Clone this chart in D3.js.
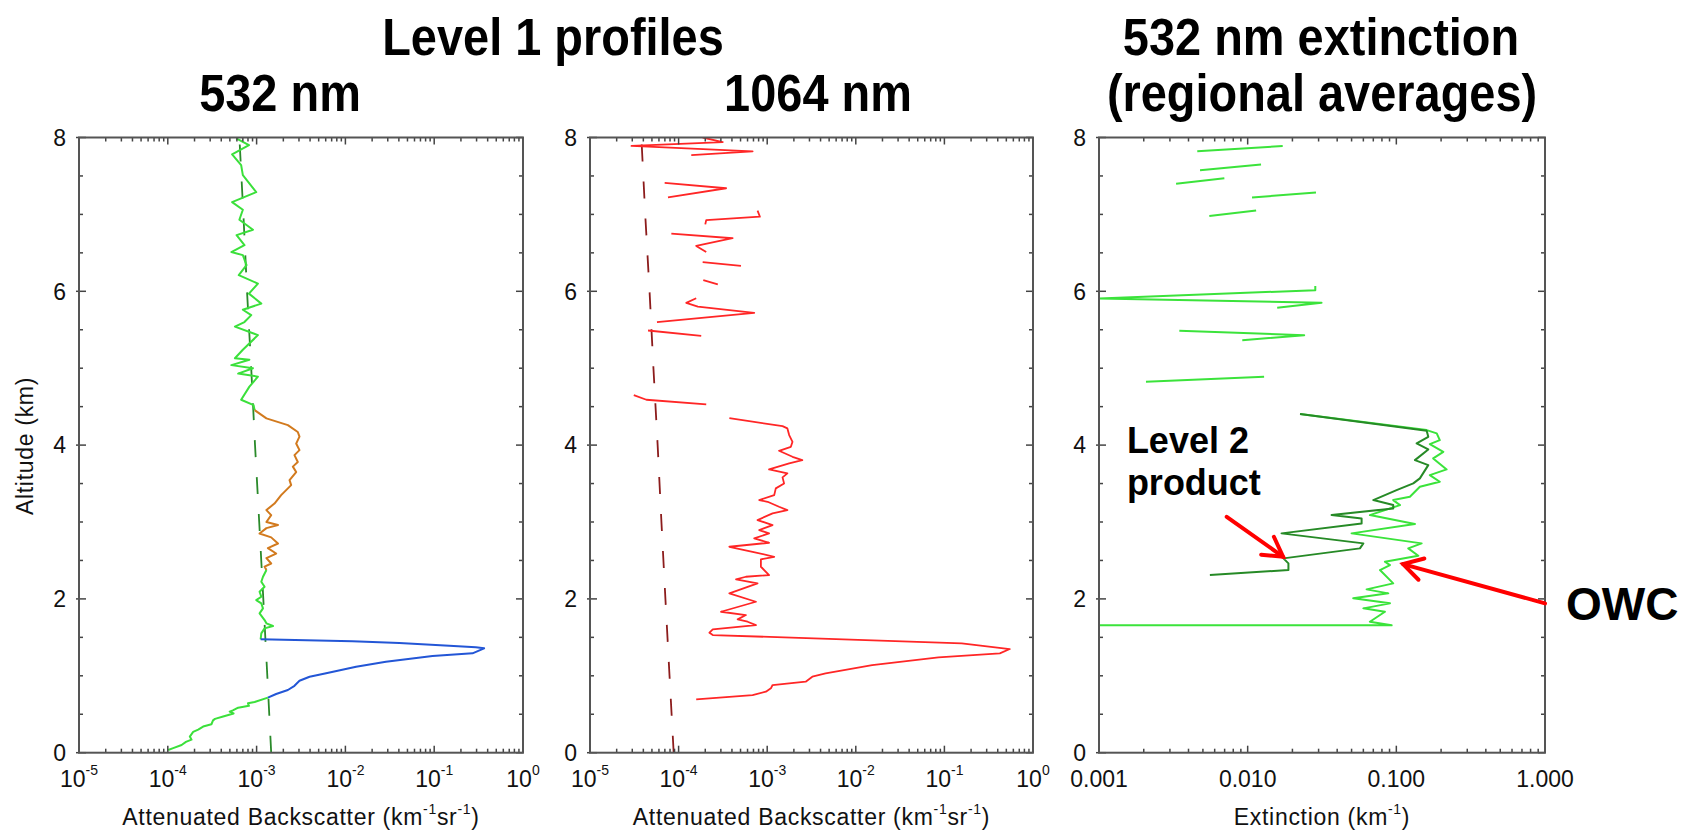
<!DOCTYPE html>
<html>
<head>
<meta charset="utf-8">
<script src="https://cdn.jsdelivr.net/npm/d3@7"></script>
<style>
html,body{margin:0;padding:0;background:#fff;}
svg{display:block;}
</style>
</head>
<body>
<svg id="chart" width="1687" height="833"></svg>
<script>
// ---------------- DATA ----------------
const altTicks = [0, 2, 4, 6, 8];
const extTickLabels = ["0.001", "0.010", "0.100", "1.000"];

// molecular (dashed) profiles
const molAlt = [0, 1, 2, 3, 4, 5, 6, 7, 8];
const mol532 = [1.46e-3, 1.32e-3, 1.19e-3, 1.07e-3, 9.6e-4, 8.7e-4, 7.8e-4, 7.1e-4, 6.4e-4];
const mol1064 = [8.8e-5, 7.9e-5, 7.1e-5, 6.4e-5, 5.8e-5, 5.2e-5, 4.7e-5, 4.2e-5, 3.8e-5];

// 532 nm attenuated backscatter [altitude km, value]
const green532Top = [[7.99,5.9e-4],[7.90,8.2e-4],[7.78,5.3e-4],[7.64,6.7e-4],[7.51,7.0e-4],[7.29,9.9e-4],[7.16,5.3e-4],[7.06,7.0e-4],[6.93,6.4e-4],[6.80,9.1e-4],[6.73,5.95e-4],[6.60,7.3e-4],[6.51,5.2e-4],[6.47,7.0e-4],[6.34,7.7e-4],[6.21,6.3e-4],[6.10,1.035e-3],[5.97,8.2e-4],[5.84,1.13e-3],[5.76,7.0e-4],[5.69,8.7e-4],[5.60,7.3e-4],[5.54,5.7e-4],[5.43,1.035e-3],[5.24,7.0e-4],[5.13,5.7e-4],[5.11,8.3e-4],[5.04,5.2e-4],[5.00,9.1e-4],[4.93,6.2e-4],[4.89,1.035e-3],[4.76,8.3e-4],[4.59,6.7e-4],[4.52,9.25e-4],[4.455,9.5e-4]];
const orange532 = [[4.455,9.5e-4],[4.347,1.29e-3],[4.26,2.25e-3],[4.17,2.91e-3],[4.11,3.04e-3],[4.02,2.79e-3],[3.935,3.04e-3],[3.87,2.67e-3],[3.78,2.91e-3],[3.72,2.56e-3],[3.65,2.79e-3],[3.545,2.35e-3],[3.48,2.45e-3],[3.35,1.89e-3],[3.24,1.59e-3],[3.155,1.29e-3],[3.09,1.46e-3],[3.00,1.29e-3],[2.96,1.74e-3],[2.92,1.29e-3],[2.85,1.08e-3],[2.80,1.46e-3],[2.72,1.74e-3],[2.66,1.34e-3],[2.59,1.66e-3],[2.53,1.29e-3],[2.46,1.46e-3],[2.42,1.23e-3],[2.375,1.29e-3]];
const green532Mid = [[2.375,1.29e-3],[2.288,1.18e-3],[2.223,1.13e-3],[2.158,1.23e-3],[2.093,1.08e-3],[2.028,1.13e-3],[1.985,9.9e-4],[1.942,1.13e-3],[1.877,1.18e-3],[1.812,1.08e-3],[1.725,1.23e-3],[1.682,1.29e-3],[1.647,1.53e-3],[1.617,1.23e-3],[1.552,1.13e-3],[1.474,1.11e-3]];
const blue532 = [[1.474,1.11e-3],[1.45,0.012],[1.426,0.0405],[1.391,0.148],[1.37,0.294],[1.357,0.365],[1.292,0.27],[1.257,0.0957],[1.183,0.0286],[1.118,0.0132],[1.032,6.07e-3],[0.988,3.95e-3],[0.936,3.04e-3],[0.87,2.67e-3],[0.815,2.25e-3],[0.763,1.66e-3],[0.716,1.34e-3]];
const green532Low = [[0.716,1.34e-3],[0.66,9.5e-4],[0.642,8.0e-4],[0.61,8.2e-4],[0.585,6.2e-4],[0.55,5.4e-4],[0.533,4.98e-4],[0.51,5.5e-4],[0.47,4.2e-4],[0.44,3.4e-4],[0.42,3.23e-4],[0.37,3.1e-4],[0.34,2.5e-4],[0.30,2.2e-4],[0.27,1.93e-4],[0.21,1.77e-4],[0.17,1.85e-4],[0.14,1.6e-4],[0.10,1.43e-4],[0.06,1.15e-4],[0.035,1.01e-4]];

// 1064 nm attenuated backscatter segments
const red1064Segments = [
  [[8.0,1.87e-4],[7.94,3.15e-4],[7.89,2.94e-5],[7.82,6.84e-4],[7.77,1.39e-4]],
  [[7.41,6.96e-5],[7.34,3.44e-4],[7.22,7.59e-5]],
  [[7.05,7.78e-4],[6.97,8.28e-4],[6.925,2.05e-4],[6.87,2.0e-4]],
  [[6.75,8.28e-5],[6.69,4.07e-4],[6.59,1.58e-4],[6.51,2.05e-4]],
  [[6.38,1.87e-4],[6.33,5.06e-4]],
  [[6.145,1.9e-4],[6.09,2.77e-4]],
  [[5.91,1.58e-4],[5.85,1.22e-4],[5.80,1.65e-4],[5.72,7.14e-4],[5.60,5.7e-5]],
  [[5.49,4.52e-5],[5.42,1.8e-4]],
  [[4.65,3.12e-5],[4.59,4.33e-5],[4.53,2.05e-4]],
  [[4.35,3.74e-4],[4.247,1.49e-3],[4.217,1.69e-3],[4.13,1.77e-3],[4.043,1.93e-3],[3.978,1.85e-3],[3.926,1.36e-3],[3.848,1.93e-3],[3.805,2.49e-3],[3.762,1.77e-3],[3.684,1.05e-3],[3.632,1.69e-3],[3.58,1.49e-3],[3.502,1.55e-3],[3.437,1.25e-3],[3.35,1.2e-3],[3.285,8.13e-4],[3.263,1.01e-3],[3.198,1.36e-3],[3.155,1.69e-3],[3.112,1.15e-3],[3.025,7.78e-4],[2.96,1.15e-3],[2.895,8.13e-4],[2.852,1.05e-3],[2.787,7.14e-4],[2.73,1.05e-3],[2.678,3.74e-4],[2.613,6.84e-4],[2.548,1.2e-3],[2.514,8.49e-4],[2.418,8.49e-4],[2.31,1.05e-3],[2.288,5.75e-4],[2.254,4.45e-4],[2.202,7.78e-4],[2.072,3.74e-4],[1.963,7.46e-4],[1.833,3.01e-4],[1.79,5.75e-4],[1.734,4.64e-4],[1.703,6.01e-4],[1.66,7.46e-4],[1.604,2.43e-4],[1.56,2.23e-4],[1.53,2.43e-4],[1.422,0.157],[1.348,0.547],[1.292,0.422],[1.24,0.0857],[1.14,0.0153],[1.032,4.56e-3],[0.988,3.23e-3],[0.923,2.72e-3],[0.88,1.15e-3],[0.837,1.1e-3],[0.793,9.67e-4],[0.75,6.84e-4],[0.694,1.58e-4]]
];

// 532 nm extinction (regional averages)
const extUpperSegments = [
  [[7.82,4.58e-3],[7.89,0.0172]],
  [[7.575,4.78e-3],[7.65,0.0123]],
  [[7.40,3.3e-3],[7.47,6.97e-3]],
  [[7.22,0.0107],[7.285,0.0288]],
  [[6.98,5.52e-3],[7.05,0.0114]],
  [[6.07,0.0285],[6.015,0.0285],[5.907,0.001],[5.85,0.0314],[5.785,0.0158]],
  [[5.486,3.47e-3],[5.43,0.024],[5.365,9.2e-3]],
  [[4.823,2.07e-3],[4.888,0.0129]]
];
const extOWC = [[4.403,0.0225],[4.195,0.16],[4.152,0.187],[4.065,0.196],[4.013,0.168],[3.913,0.207],[3.827,0.177],[3.684,0.218],[3.61,0.168],[3.523,0.196],[3.458,0.144],[3.328,0.1234],[3.285,0.0953],[3.22,0.1058],[3.09,0.0664],[2.973,0.1334],[2.852,0.05],[2.722,0.148],[2.657,0.1203],[2.561,0.1405],[2.483,0.0838],[2.44,0.0906],[2.375,0.0776],[2.202,0.0953],[2.124,0.0631],[2.072,0.0883],[2.007,0.0513],[1.942,0.0906],[1.877,0.06],[1.833,0.0838],[1.703,0.0664],[1.656,0.093],[1.656,0.001]];
const extLevel2 = [[4.403,0.0225],[4.186,0.16],[4.108,0.164],[4.022,0.137],[3.944,0.164],[3.805,0.1334],[3.74,0.164],[3.567,0.144],[3.502,0.13],[3.415,0.1004],[3.285,0.07],[3.22,0.0953],[3.177,0.0953],[3.09,0.0367],[3.047,0.0584],[2.982,0.0584],[2.852,0.0169],[2.722,0.06],[2.657,0.0569],[2.527,0.0174],[2.462,0.0188],[2.375,0.0188],[2.31,5.57e-3]];

// annotation anchors [extinction, altitude]
const arrowLevel2 = {from: [0.00723, 3.068], to: [0.0173, 2.548]};
const arrowOWC = {from: [1.0, 1.942], to: [0.111, 2.453]};

// ---------------- DRAWING ----------------
const FONT = "'Liberation Sans', Arial, Helvetica, sans-serif";
const svg = d3.select("#chart");
svg.append("rect").attr("width", 1687).attr("height", 833).attr("fill", "#fff");

const yTop = 137.5, yBot = 752.7;
const y = d3.scaleLinear().domain([0, 8]).range([yBot, yTop]);

const panels = [
  {x: d3.scaleLog().domain([1e-5, 1]).range([79, 523]), kind: "bs"},
  {x: d3.scaleLog().domain([1e-5, 1]).range([590, 1033]), kind: "bs"},
  {x: d3.scaleLog().domain([1e-3, 1]).range([1099, 1545]), kind: "ext"}
];

function lineFor(xs) {
  return d3.line().x(d => xs(d[1])).y(d => y(d[0]));
}

function clipFor(i, xs) {
  const id = "clip" + i;
  svg.append("clipPath").attr("id", id).append("rect")
    .attr("x", xs.range()[0]).attr("y", yTop)
    .attr("width", xs.range()[1] - xs.range()[0]).attr("height", yBot - yTop);
  return "url(#" + id + ")";
}

function isDecade(t) {
  const lg = Math.log10(t);
  return Math.abs(lg - Math.round(lg)) < 1e-9;
}

function drawFrame(xs, kind) {
  const [x0, x1] = xs.range();
  const g = svg.append("g");
  y.ticks(16).forEach(t => {
    const major = Math.abs(t % 2) < 1e-9;
    const len = major ? 7 : 4;
    g.append("line").attr("x1", x0 - (major ? 3 : 0)).attr("x2", x0 + len).attr("y1", y(t)).attr("y2", y(t))
      .attr("stroke", "#444").attr("stroke-width", 1.5);
    g.append("line").attr("x1", x1).attr("x2", x1 - len).attr("y1", y(t)).attr("y2", y(t))
      .attr("stroke", "#444").attr("stroke-width", 1.5);
  });
  xs.ticks().forEach(t => {
    const len = isDecade(t) ? 7 : 4;
    g.append("line").attr("x1", xs(t)).attr("x2", xs(t)).attr("y1", yBot).attr("y2", yBot - len)
      .attr("stroke", "#444").attr("stroke-width", 1.5);
    g.append("line").attr("x1", xs(t)).attr("x2", xs(t)).attr("y1", yTop).attr("y2", yTop + len)
      .attr("stroke", "#444").attr("stroke-width", 1.5);
  });
  g.append("rect").attr("x", x0).attr("y", yTop).attr("width", x1 - x0).attr("height", yBot - yTop)
    .attr("fill", "none").attr("stroke", "#555").attr("stroke-width", 2);

  altTicks.forEach(t => {
    g.append("text").attr("x", x0 - 13).attr("y", y(t)).attr("dy", "0.36em")
      .attr("text-anchor", "end").attr("font-family", FONT).attr("font-size", 23)
      .attr("fill", "#111").text(t);
  });
  xs.ticks().filter(isDecade).forEach((t, i) => {
    const tx = g.append("text").attr("x", xs(t)).attr("y", yBot + 34)
      .attr("text-anchor", "middle").attr("font-family", FONT).attr("font-size", 23).attr("fill", "#111");
    if (kind === "bs") {
      tx.append("tspan").text("10");
      tx.append("tspan").attr("dy", -12).attr("font-size", 14).text(String(Math.round(Math.log10(t))));
    } else {
      tx.text(extTickLabels[i]);
    }
  });
}

function axisTitle(xs, parts) {
  const [x0, x1] = xs.range();
  const t = svg.append("text").attr("x", (x0 + x1) / 2).attr("y", 825)
    .attr("text-anchor", "middle").attr("font-family", FONT).attr("font-size", 23)
    .attr("letter-spacing", 0.7).attr("fill", "#111");
  let raised = false;
  parts.forEach(p => {
    const s = t.append("tspan").text(p.t);
    if (p.sup && !raised) { s.attr("dy", -11).attr("font-size", 14); raised = true; }
    else if (p.sup) { s.attr("font-size", 14); }
    else if (raised) { s.attr("dy", 11); raised = false; }
  });
}

// ---- Panel 1: 532 nm ----
{
  const xs = panels[0].x;
  const cp = clipFor(0, xs);
  const g = svg.append("g").attr("clip-path", cp);
  const ln = lineFor(xs);
  g.append("path").datum(molAlt.map((a, i) => [a, mol532[i]])).attr("d", ln)
    .attr("fill", "none").attr("stroke", "#2a8a2a").attr("stroke-width", 1.8).attr("stroke-dasharray", "17,20");
  [[green532Top, "#3be03b"], [orange532, "#d27a1e"], [green532Mid, "#3be03b"], [blue532, "#2356d6"], [green532Low, "#3be03b"]]
    .forEach(([d, c]) => {
      g.append("path").datum(d).attr("d", ln).attr("fill", "none").attr("stroke", c)
        .attr("stroke-width", 2).attr("stroke-linejoin", "round");
    });
  drawFrame(xs, "bs");
  axisTitle(xs, [{t: "Attenuated Backscatter (km"}, {t: "-1", sup: true}, {t: "sr"}, {t: "-1", sup: true}, {t: ")"}]);
}

// ---- Panel 2: 1064 nm ----
{
  const xs = panels[1].x;
  const cp = clipFor(1, xs);
  const g = svg.append("g").attr("clip-path", cp);
  const ln = lineFor(xs);
  g.append("path").datum(molAlt.map((a, i) => [a, mol1064[i]])).attr("d", ln)
    .attr("fill", "none").attr("stroke", "#8c1c1c").attr("stroke-width", 1.8).attr("stroke-dasharray", "17,20");
  red1064Segments.forEach(d => {
    g.append("path").datum(d).attr("d", ln).attr("fill", "none").attr("stroke", "#ff2626")
      .attr("stroke-width", 1.8).attr("stroke-linejoin", "round");
  });
  drawFrame(xs, "bs");
  axisTitle(xs, [{t: "Attenuated Backscatter (km"}, {t: "-1", sup: true}, {t: "sr"}, {t: "-1", sup: true}, {t: ")"}]);
}

// ---- Panel 3: extinction ----
{
  const xs = panels[2].x;
  const cp = clipFor(2, xs);
  const g = svg.append("g").attr("clip-path", cp);
  const ln = lineFor(xs);
  extUpperSegments.forEach(d => {
    g.append("path").datum(d).attr("d", ln).attr("fill", "none").attr("stroke", "#3be33b")
      .attr("stroke-width", 2).attr("stroke-linejoin", "round");
  });
  g.append("path").datum(extOWC).attr("d", ln).attr("fill", "none").attr("stroke", "#3be33b")
    .attr("stroke-width", 2).attr("stroke-linejoin", "round");
  g.append("path").datum(extLevel2).attr("d", ln).attr("fill", "none").attr("stroke", "#268a26")
    .attr("stroke-width", 2).attr("stroke-linejoin", "round");
  drawFrame(xs, "ext");
  axisTitle(xs, [{t: "Extinction (km"}, {t: "-1", sup: true}, {t: ")"}]);

  function arrow(a) {
    const x1 = xs(a.from[0]), y1 = y(a.from[1]), x2 = xs(a.to[0]), y2 = y(a.to[1]);
    const ang = Math.atan2(y1 - y2, x1 - x2);
    const L = 22, da = Math.PI / 6;
    const gg = svg.append("g").attr("stroke", "#ff0000").attr("stroke-width", 4).attr("stroke-linecap", "round").attr("fill", "none");
    gg.append("line").attr("x1", x1).attr("y1", y1).attr("x2", x2).attr("y2", y2);
    gg.append("polyline").attr("points",
      [[x2 + L * Math.cos(ang - da), y2 + L * Math.sin(ang - da)], [x2, y2], [x2 + L * Math.cos(ang + da), y2 + L * Math.sin(ang + da)]]
        .map(p => p.join(",")).join(" "));
  }
  arrow(arrowLevel2);
  arrow(arrowOWC);

  svg.append("text").attr("x", xs(0.00154)).attr("y", y(3.892)).attr("font-family", FONT)
    .attr("font-weight", "bold").attr("font-size", 36).attr("fill", "#000").text("Level 2");
  svg.append("text").attr("x", xs(0.00154)).attr("y", y(3.35)).attr("font-family", FONT)
    .attr("font-weight", "bold").attr("font-size", 36).attr("fill", "#000").text("product");
  svg.append("text").attr("x", xs(1) + 21).attr("y", y(1.725)).attr("font-family", FONT)
    .attr("font-weight", "bold").attr("font-size", 46).attr("fill", "#000").text("OWC");
}

// y-axis title (panel 1)
svg.append("text").attr("transform", "translate(33,446) rotate(-90)").attr("text-anchor", "middle")
  .attr("font-family", FONT).attr("font-size", 23).attr("letter-spacing", 0.7).attr("fill", "#111").text("Altitude (km)");

// titles
const titles = [
  {t: "Level 1 profiles", x: 553, y: 55},
  {t: "532 nm", x: 280, y: 111},
  {t: "1064 nm", x: 818, y: 111},
  {t: "532 nm extinction", x: 1321, y: 55},
  {t: "(regional averages)", x: 1322, y: 111}
];
titles.forEach(d => {
  svg.append("text").attr("transform", `translate(${d.x},${d.y}) scale(0.92,1)`)
    .attr("text-anchor", "middle").attr("font-family", FONT).attr("font-weight", "bold")
    .attr("font-size", 51).attr("fill", "#000").text(d.t);
});
</script>
</body>
</html>
